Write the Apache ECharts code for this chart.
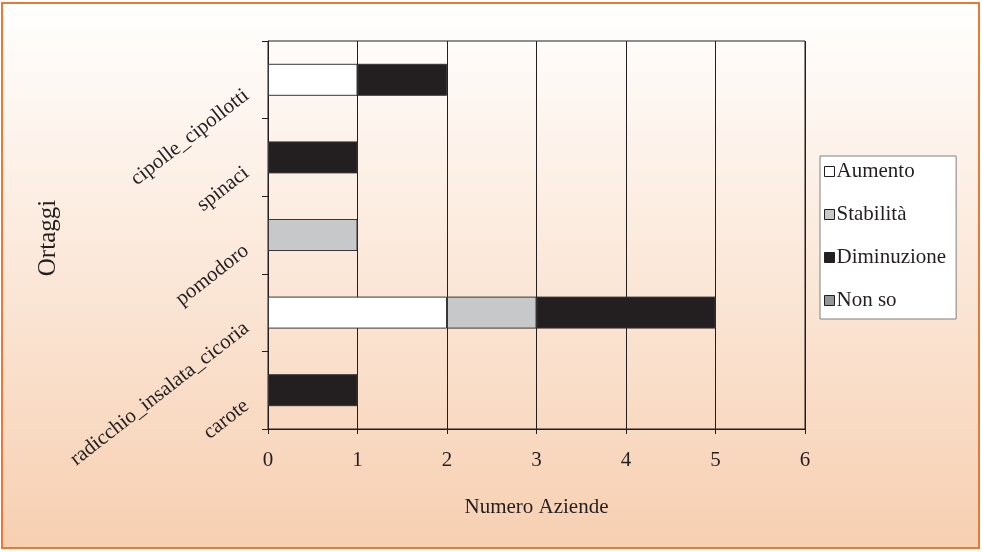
<!DOCTYPE html>
<html>
<head>
<meta charset="utf-8">
<script src="https://cdn.jsdelivr.net/npm/echarts@6/dist/echarts.min.js"></script>
<style>
  html, body { margin: 0; padding: 0; background: #ffffff; }
  #chart { width: 982px; height: 552px; }
</style>
</head>
<body>
<div id="chart"></div>
<script>
// Vegetables, listed bottom to top
const categories = ['carote', 'radicchio_insalata_cicoria', 'pomodoro', 'spinaci', 'cipolle_cipollotti'];

// Number of farms per answer
const aumento     = [0, 2, 0, 0, 1];
const stabilita   = [0, 1, 1, 0, 0];
const diminuzione = [1, 2, 0, 1, 1];
const nonSo       = [0, 0, 0, 0, 0];

const xTicks = [0, 1, 2, 3, 4, 5, 6];

const ink = '#231f20';
const serif = '"Liberation Serif", "Times New Roman", serif';

const chart = echarts.init(document.getElementById('chart'), null, { renderer: 'canvas' });

function barSeries(name, values, color) {
  return {
    name: name,
    type: 'bar',
    stack: 'total',
    data: values.map(v => (v === 0 ? '-' : v)),
    barWidth: 32,
    itemStyle: { color: color, borderColor: '#3a3637', borderWidth: 1 },
    emphasis: { disabled: true }
  };
}

chart.setOption({
  animation: false,
  graphic: [{
    type: 'rect',
    z: -10,
    shape: { x: 2, y: 3, width: 977, height: 545 },
    style: {
      fill: new echarts.graphic.LinearGradient(0, 0, 0, 1, [
        { offset: 0, color: '#ffffff' },
        { offset: 1, color: '#f7cfb1' }
      ]),
      stroke: '#e97a33',
      lineWidth: 2
    }
  }, {
    // vertical title of the category axis
    type: 'text',
    x: 48, y: 238,
    rotation: Math.PI / 2,
    style: {
      text: 'Ortaggi',
      fontFamily: serif, fontSize: 25, fill: ink,
      align: 'center', verticalAlign: 'middle'
    }
  }],
  grid: {
    left: 268, right: 177, top: 41, bottom: 123,
    show: true, borderColor: ink, borderWidth: 1, backgroundColor: 'transparent'
  },
  legend: {
    orient: 'vertical',
    left: 820, top: 156,
    backgroundColor: '#ffffff',
    borderColor: '#808080',
    borderWidth: 1,
    padding: [5, 10, 8, 4],
    itemWidth: 10, itemHeight: 10,
    itemGap: 22,
    icon: 'rect',
    selectedMode: false,
    itemStyle: { borderColor: ink, borderWidth: 1 },
    textStyle: { fontFamily: serif, fontSize: 21, color: ink, lineHeight: 21, padding: [0, 0, 0, -3] },
    data: ['Aumento', 'Stabilità', 'Diminuzione', 'Non so']
  },
  xAxis: {
    type: 'value',
    min: 0, max: 6, interval: 1,
    name: 'Numero Aziende',
    nameLocation: 'middle',
    nameGap: 68,
    nameTextStyle: { fontFamily: serif, fontSize: 21, color: ink },
    axisLine: { show: true, lineStyle: { color: ink, width: 1 } },
    axisTick: { show: true, length: 5, lineStyle: { color: ink } },
    axisLabel: {
      fontFamily: serif, fontSize: 21, color: ink, margin: 21,
      formatter: v => String(xTicks[v] ?? v)
    },
    splitLine: { show: true, lineStyle: { color: ink, width: 1 } }
  },
  yAxis: {
    type: 'category',
    data: categories,
    axisLine: { show: true, lineStyle: { color: ink, width: 1 } },
    axisTick: { show: true, length: 6, lineStyle: { color: ink } },
    axisLabel: {
      fontFamily: serif, fontSize: 21, color: ink, rotate: 38, margin: 32,
      align: 'right', verticalAlign: 'top', lineHeight: 34
    },
    splitLine: { show: false }
  },
  series: [
    barSeries('Aumento', aumento, '#ffffff'),
    barSeries('Stabilità', stabilita, '#c7c8ca'),
    barSeries('Diminuzione', diminuzione, ink),
    barSeries('Non so', nonSo, '#939598')
  ]
});
</script>
</body>
</html>
